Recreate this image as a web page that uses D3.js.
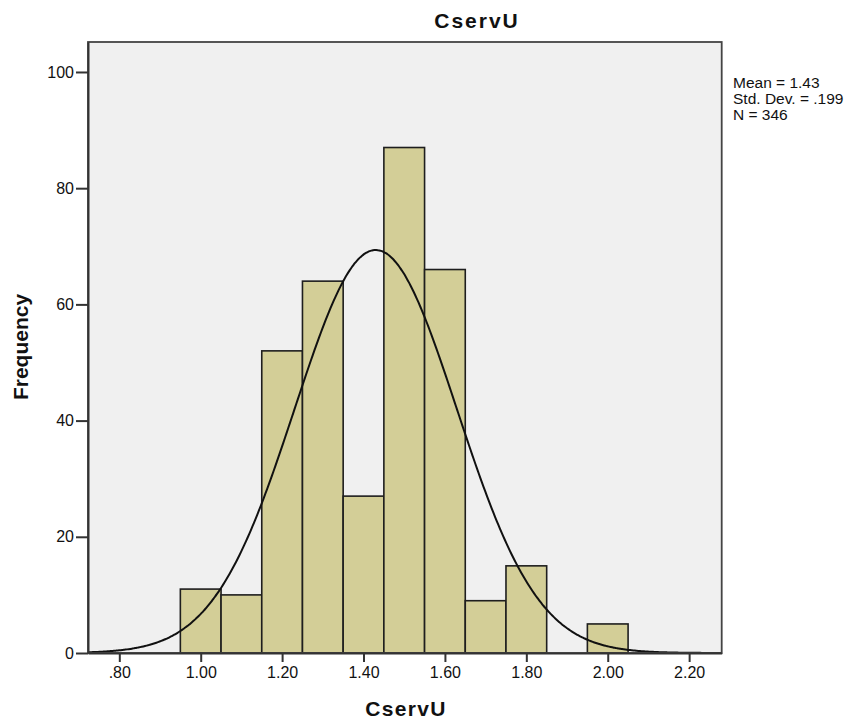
<!DOCTYPE html>
<html>
<head>
<meta charset="utf-8">
<script src="https://cdn.jsdelivr.net/npm/d3@7"></script>
<style>
  body { margin: 0; background: #fff; }
  text { font-family: Arial, "Liberation Sans", sans-serif; fill: #111; }
</style>
</head>
<body>
<svg id="chart" width="853" height="720"></svg>
<script>
// ---- data ----
const binStarts = [0.95, 1.05, 1.15, 1.25, 1.35, 1.45, 1.55, 1.65, 1.75, 1.85, 1.95];
const binWidth = 0.1;
const frequencies = [11, 10, 52, 64, 27, 87, 66, 9, 15, 0, 5];
const xTickValues = [0.8, 1.0, 1.2, 1.4, 1.6, 1.8, 2.0, 2.2];
const yTickValues = [0, 20, 40, 60, 80, 100];
const statMean = 1.43;
const statSD = 0.199;
const statN = 346;
const statLines = ["Mean = 1.43", "Std. Dev. = .199", "N = 346"];
const titleText = "CservU";
const xLabel = "CservU";
const yLabel = "Frequency";

// ---- layout ----
const svg = d3.select("#chart");
const L = 88, R = 721.7, T = 42, B = 653;
const x = d3.scaleLinear().domain([0.7231, 2.280]).range([L, R]);
const y = d3.scaleLinear().domain([0, 105.16]).range([B, T]);

// plot background
svg.append("rect").attr("x", L).attr("y", T).attr("width", R - L).attr("height", B - T)
  .attr("fill", "#F0F0F0");

// bars
const bins = binStarts.map((s, i) => ({ x0: s, x1: s + binWidth, v: frequencies[i] })).filter(d => d.v > 0);
svg.append("g").selectAll("rect").data(bins).join("rect")
  .attr("x", d => x(d.x0))
  .attr("y", d => y(d.v))
  .attr("width", d => x(d.x1) - x(d.x0))
  .attr("height", d => y(0) - y(d.v))
  .attr("fill", "#D3CE97")
  .attr("stroke", "#1e1e1e")
  .attr("stroke-width", 1.6);

// normal curve from stated mean / sd / N
const dom = x.domain();
const pts = d3.range(dom[0], dom[1] + 0.0001, 0.004).map(v => {
  const z = (v - statMean) / statSD;
  return [v, statN * binWidth * Math.exp(-0.5 * z * z) / (statSD * Math.sqrt(2 * Math.PI))];
});
svg.append("path").datum(pts)
  .attr("fill", "none").attr("stroke", "#111").attr("stroke-width", 2)
  .attr("d", d3.line().x(d => x(d[0])).y(d => y(d[1])).curve(d3.curveBasis));

// frame
svg.append("rect").attr("x", L).attr("y", T).attr("width", R - L).attr("height", B - T)
  .attr("fill", "none").attr("stroke", "#444").attr("stroke-width", 1.8);

// y axis
const yAxis = d3.axisLeft(y).tickValues(yTickValues).tickSize(12).tickSizeOuter(0).tickPadding(2).tickFormat(d3.format("d"));
const gy = svg.append("g").attr("transform", `translate(${L},0)`).call(yAxis);
gy.select(".domain").attr("stroke", "#333").attr("stroke-width", 2);
gy.selectAll(".tick line").attr("stroke", "#333").attr("stroke-width", 2);
gy.selectAll(".tick text").style("font-size", "16px").style("font-family", "Arial, 'Liberation Sans', sans-serif").attr("fill", "#222");

// x axis
const fmtX = v => { const s = d3.format(".2f")(v); return s.startsWith("0") ? s.slice(1) : s; };
const xAxis = d3.axisBottom(x).tickValues(xTickValues).tickSize(9).tickSizeOuter(0).tickPadding(5).tickFormat(fmtX);
const gx = svg.append("g").attr("transform", `translate(0,${B})`).call(xAxis);
gx.select(".domain").attr("stroke", "#333").attr("stroke-width", 2);
gx.selectAll(".tick line").attr("stroke", "#333").attr("stroke-width", 2);
gx.selectAll(".tick text").style("font-size", "16px").style("font-family", "Arial, 'Liberation Sans', sans-serif").attr("fill", "#222");

// title
svg.append("text").attr("x", 477).attr("y", 28).attr("text-anchor", "middle")
  .style("font-size", "21px").style("font-weight", "bold").style("letter-spacing", "2px")
  .text(titleText);

// x label
svg.append("text").attr("x", 406).attr("y", 716).attr("text-anchor", "middle")
  .style("font-size", "21px").style("font-weight", "bold").style("letter-spacing", "1.3px")
  .text(xLabel);

// y label
svg.append("text").attr("transform", "translate(28,347) rotate(-90)").attr("text-anchor", "middle")
  .style("font-size", "21px").style("font-weight", "bold")
  .text(yLabel);

// stats
svg.append("g").selectAll("text").data(statLines).join("text")
  .attr("x", 733).attr("y", (d, i) => 88 + i * 15.8)
  .style("font-size", "15.5px").attr("fill", "#222")
  .text(d => d);
</script>
</body>
</html>
